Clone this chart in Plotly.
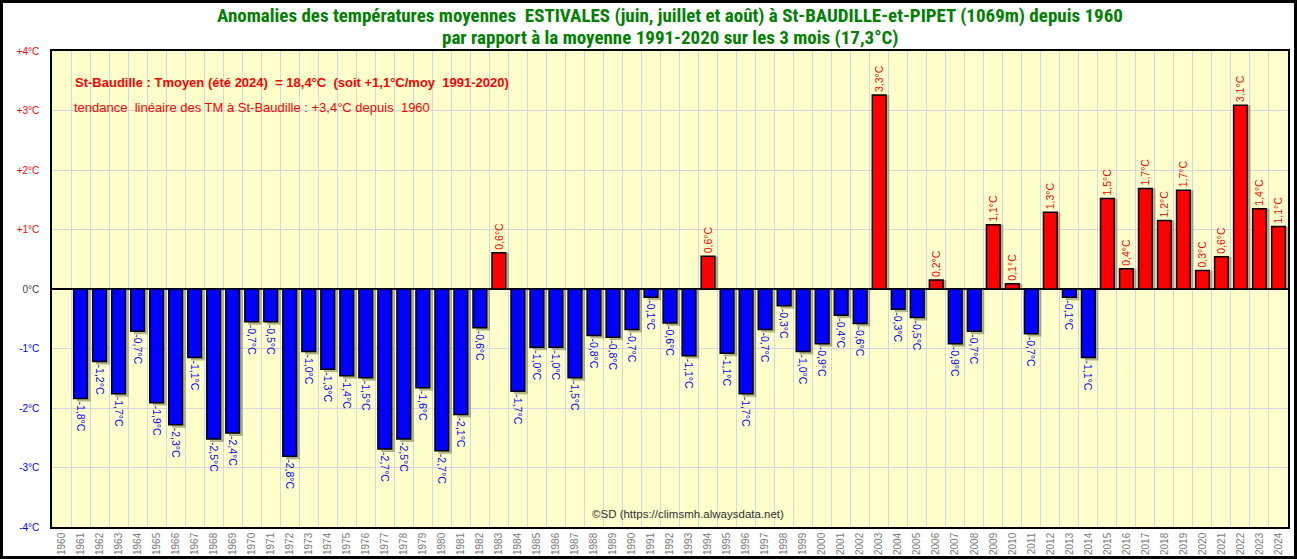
import plotly.graph_objects as go

years = [str(y) for y in range(1960, 2025)]
anomalies = [None,
    -1.84, -1.22, -1.76, -0.71, -1.91, -2.28, -1.15, -2.52, -2.42, -0.55,
    -0.55, -2.81, -1.05, -1.35, -1.46, -1.49, -2.69, -2.52, -1.66, -2.72,
    -2.11, -0.65, 0.61, -1.72, -0.98, -0.98, -1.49, -0.78, -0.81, -0.68,
    -0.14, -0.57, -1.12, 0.55, -1.08, -1.76, -0.68, -0.28, -1.05, -0.92,
    -0.44, -0.58, 3.26, -0.34, -0.48, 0.15, -0.92, -0.71, 1.08, 0.09,
    -0.75, 1.29, -0.14, -1.15, 1.52, 0.34, 1.69, 1.15, 1.66, 0.31,
    0.54, 3.09, 1.35, 1.05]
labels = ["",
    "-1,8°C", "-1,2°C", "-1,7°C", "-0,7°C", "-1,9°C", "-2,3°C", "-1,1°C", "-2,5°C", "-2,4°C", "-0,7°C",
    "-0,5°C", "-2,8°C", "-1,0°C", "-1,3°C", "-1,4°C", "-1,5°C", "-2,7°C", "-2,5°C", "-1,6°C", "-2,7°C",
    "-2,1°C", "-0,6°C", "0,6°C", "-1,7°C", "-1,0°C", "-1,0°C", "-1,5°C", "-0,8°C", "-0,8°C", "-0,7°C",
    "-0,1°C", "-0,6°C", "-1,1°C", "0,6°C", "-1,1°C", "-1,7°C", "-0,7°C", "-0,3°C", "-1,0°C", "-0,9°C",
    "-0,4°C", "-0,6°C", "3,3°C", "-0,3°C", "-0,5°C", "0,2°C", "-0,9°C", "-0,7°C", "1,1°C", "0,1°C",
    "-0,7°C", "1,3°C", "-0,1°C", "-1,1°C", "1,5°C", "0,4°C", "1,7°C", "1,2°C", "1,7°C", "0,3°C",
    "0,6°C", "3,1°C", "1,4°C", "1,1°C"]
y_ticks = [-4, -3, -2, -1, 0, 1, 2, 3, 4]
y_tick_text = ["-4°C", "-3°C", "-2°C", "-1°C", "0°C", "+1°C", "+2°C", "+3°C", "+4°C"]

title1 = "Anomalies des températures moyennes  ESTIVALES (juin, juillet et août) à St-BAUDILLE-et-PIPET (1069m) depuis 1960"
title2 = "par rapport à la moyenne 1991-2020 sur les 3 mois (17,3°C)"
note1 = "St-Baudille : Tmoyen (été 2024)  = 18,4°C  (soit +1,1°C/moy  1991-2020)"
note2 = "tendance  linéaire des TM à St-Baudille : +3,4°C depuis  1960"
credit = "©SD (https://climsmh.alwaysdata.net)"

pos_y = [v if (v is not None and v > 0) else None for v in anomalies]
neg_y = [v if (v is not None and v < 0) else None for v in anomalies]
pos_t = [t if (v is not None and v > 0) else "" for v, t in zip(anomalies, labels)]
neg_t = [t if (v is not None and v < 0) else "" for v, t in zip(anomalies, labels)]
# drop shadow (slightly offset to the right and outward)
shadow_y = [None if v is None else (v - 0.05 if v < 0 else v) for v in anomalies]

lab_font = "Liberation Sans"
BW = 0.72

fig = go.Figure()
fig.add_trace(go.Bar(x=years, y=shadow_y, width=BW, offset=-BW / 2 + 0.17,
                     marker=dict(color="rgba(90,90,60,0.45)", line=dict(width=0)),
                     hoverinfo="skip"))
fig.add_trace(go.Bar(x=years, y=pos_y, text=pos_t, textposition="outside", textangle=-90,
                     marker=dict(color="#FF0000", line=dict(color="black", width=1.5)),
                     textfont=dict(color="#FF0000", size=10.5, family=lab_font),
                     width=BW, cliponaxis=False, constraintext="none", hoverinfo="x+y"))
fig.add_trace(go.Bar(x=years, y=neg_y, text=neg_t, textposition="outside", textangle=90,
                     marker=dict(color="#0000FF", line=dict(color="black", width=1.5)),
                     textfont=dict(color="#0000FF", size=10.5, family=lab_font),
                     width=BW, cliponaxis=False, constraintext="none", hoverinfo="x+y"))

def color_for(v):
    if v > 0:
        return "#FF0000"
    if v < 0:
        return "#0000FF"
    return "#404040"

ticktext = ['<span style="color:%s">%s</span>' % (color_for(v), t) for v, t in zip(y_ticks, y_tick_text)]

fig.update_layout(
    width=1297, height=559,
    margin=dict(l=52, r=9, t=51, b=32),
    paper_bgcolor="white", plot_bgcolor="#FFFFCC",
    barmode="overlay", showlegend=False,
    font=dict(family="Liberation Sans, Arial", size=10, color="#404040"),
    xaxis=dict(type="category", categoryorder="array", categoryarray=years,
               range=[-0.5, len(years) - 0.5], tickson="boundaries", automargin=False,
               showgrid=True, gridcolor="#D6D6E0", gridwidth=1,
               tickangle=-90, tickfont=dict(size=10, color="#7A7A7A", family="Liberation Sans"),
               ticks="", showline=True, mirror=True, linecolor="black", linewidth=1.5),
    yaxis=dict(range=[-4, 4], tickvals=y_ticks, ticktext=ticktext, automargin=False,
               showgrid=True, gridcolor="#D6D6E0", gridwidth=1,
               zeroline=True, zerolinecolor="black", zerolinewidth=2,
               tickfont=dict(size=10, family="Liberation Sans"), ticks="",
               ticklabelstandoff=9,
               showline=True, mirror=True, linecolor="black", linewidth=1.5),
)

tfont = dict(family="Roboto Condensed, Liberation Sans Narrow, Liberation Sans", size=19, color="#008000")
fig.add_annotation(text="<b>%s</b>" % title1, xref="paper", yref="paper", x=0.5, y=1.0756,
                   xanchor="center", yanchor="middle", showarrow=False, font=tfont)
fig.add_annotation(text="<b>%s</b>" % title2, xref="paper", yref="paper", x=0.5, y=1.0294,
                   xanchor="center", yanchor="middle", showarrow=False, font=tfont)
fig.add_annotation(text="<b>%s</b>" % note1, xref="paper", yref="paper", x=0.017, y=0.933,
                   xanchor="left", yanchor="middle", showarrow=False,
                   font=dict(family="Liberation Sans", size=13, color="#FF0000"))
fig.add_annotation(text=note2, xref="paper", yref="paper", x=0.016, y=0.882,
                   xanchor="left", yanchor="middle", showarrow=False,
                   font=dict(family="Liberation Sans", size=13, color="#FF0000"))
fig.add_annotation(text=credit, xref="paper", yref="paper", x=0.5146, y=0.0273,
                   xanchor="center", yanchor="middle", showarrow=False,
                   font=dict(family="Liberation Sans", size=11.5, color="#303030"))

# outer frame
W, H = 1236.0, 476.0
fig.add_shape(type="rect", xref="paper", yref="paper",
              x0=(-52 + 1.5) / W, x1=1 + (9 - 1.5) / W,
              y0=(-32 + 1.5) / H, y1=1 + (51 - 1.5) / H,
              line=dict(color="black", width=3), fillcolor="rgba(0,0,0,0)", layer="above")

fig.write_html("out.html", config={"displayModeBar": False},
               post_script="document.body.style.margin='0';")
